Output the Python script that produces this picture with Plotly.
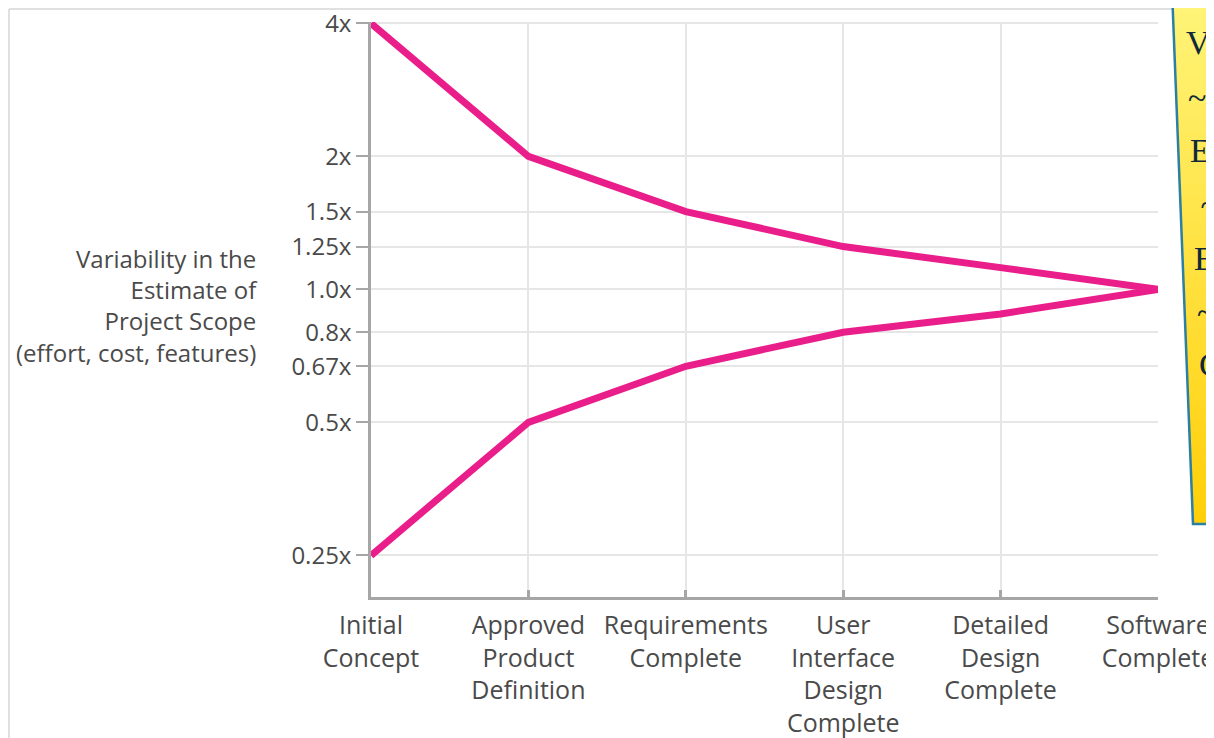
import plotly.graph_objects as go
import numpy as np

# ---------------- data ----------------
phases = ["Initial<br>Concept", "Approved<br>Product<br>Definition", "Requirements<br>Complete",
          "User<br>Interface<br>Design<br>Complete", "Detailed<br>Design<br>Complete", "Software<br>Complete"]
upper = [4, 2, 1.5, 1.25, 1.12, 1.0]
lower = [0.25, 0.5, 0.67, 0.8, 0.88, 1.0]
tick_vals = [0.25, 0.5, 0.67, 0.8, 1.0, 1.25, 1.5, 2, 4]
tick_text = ["0.25x", "0.5x", "0.67x", "0.8x", "1.0x", "1.25x", "1.5x", "2x", "4x"]
y_title = "Variability in the<br>Estimate of<br>Project Scope<br>(effort, cost, features)"
note_lines = ["Variability:", "~4x at", "Early", " ~2x at", "Elaboration", "~1x at", "Construction"]

# ---------------- layout geometry ----------------
# the page body has an 8px margin, so the figure is offset by 8px
OFF = 8
W, H = 1214 - OFF, 738 - OFF
L, R, T, B = 371, 1158, 22, 597          # plot area in page pixels
PW, PH = R - L, B - T

def px(x):
    return (x - L) / PW

def py(y):
    return (B - y) / PH

MAG = "#EA1E8A"
TXT = "#4a4a4a"
FONT = "Open Sans"

fig = go.Figure()
for vals in (upper, lower):
    fig.add_trace(go.Scatter(x=phases, y=vals, mode="lines",
                             line=dict(color=MAG, width=7),
                             cliponaxis=False, hoverinfo="skip", showlegend=False))

lo = np.log10(0.25) - 0.094
hi = np.log10(4) + 0.003

fig.update_layout(
    width=W, height=H,
    margin=dict(l=L - OFF, r=W - (R - OFF), t=T - OFF, b=H - (B - OFF), autoexpand=False),
    paper_bgcolor="white", plot_bgcolor="white",
    font=dict(family=FONT, size=25, color=TXT),
    xaxis=dict(type="category", range=[0, 5], showgrid=True, gridcolor="#e6e6e6", gridwidth=2,
               showline=True, linecolor="#a6a6a6", linewidth=3,
               ticks="inside", ticklen=7, tickwidth=3, tickcolor="#a6a6a6",
               tickfont=dict(family=FONT, size=25, color=TXT), ticklabelstandoff=4,
               zeroline=False, automargin=False),
    yaxis=dict(type="log", range=[lo, hi], tickvals=tick_vals, ticktext=tick_text,
               showgrid=True, gridcolor="#e6e6e6", gridwidth=2,
               showline=True, linecolor="#a6a6a6", linewidth=2.5,
               ticks="outside", ticklen=12, tickwidth=2, tickcolor="#a6a6a6",
               tickfont=dict(family=FONT, size=24, color=TXT), ticklabeloverflow="allow",
               zeroline=False, automargin=False),
)

# y-axis title
fig.add_annotation(xref="paper", yref="paper", x=px(260), y=py(306), xanchor="right", yanchor="middle",
                   align="right", text=y_title, showarrow=False,
                   font=dict(family=FONT, size=24, color=TXT))

# outer light border (top and left)
fig.add_shape(type="line", xref="paper", yref="paper", x0=px(9), x1=px(1172), y0=py(9), y1=py(9),
              line=dict(color="#d6d6d6", width=1.5), layer="below")
fig.add_shape(type="line", xref="paper", yref="paper", x0=px(9), x1=px(9), y0=py(9), y1=py(745),
              line=dict(color="#d6d6d6", width=1.5), layer="below")

# yellow note box (gradient made of bands)
top_y, bot_y = 0, 524
xl_top, xl_bot = 1172, 1193
def xl(y):
    return xl_top + (y - top_y) / (bot_y - top_y) * (xl_bot - xl_top)
c_top = np.array([255, 244, 120])
c_bot = np.array([255, 208, 10])
n = 40
edges = np.linspace(top_y, bot_y, n + 1)
for i in range(n):
    y0, y1 = edges[i], min(edges[i + 1] + 0.8, bot_y)
    t = i / (n - 1)
    c = (c_top * (1 - t) + c_bot * t).astype(int)
    col = f"rgb({c[0]},{c[1]},{c[2]})"
    path = (f"M {px(xl(y0))},{py(y0)} L {px(1230)},{py(y0)} L {px(1230)},{py(y1)} "
            f"L {px(xl(y1))},{py(y1)} Z")
    fig.add_shape(type="path", xref="paper", yref="paper", path=path,
                  fillcolor=col, line=dict(width=0))
fig.add_shape(type="path", xref="paper", yref="paper",
              path=f"M {px(xl_top)},{py(top_y - 10)} L {px(xl_bot)},{py(bot_y)} L {px(1230)},{py(bot_y)}",
              line=dict(color="#2b7fa3", width=2.5))

line_y = [43, 97, 150, 204, 258, 312, 365]
for txt, yy in zip(note_lines, line_y):
    fig.add_annotation(xref="paper", yref="paper", x=px(xl(yy) + 10), y=py(yy), xanchor="left",
                       yanchor="middle", text=txt.replace(" ", "&nbsp;"), showarrow=False,
                       font=dict(family="Liberation Serif", size=34, color="#10293a"))

fig.write_html("out.html")
